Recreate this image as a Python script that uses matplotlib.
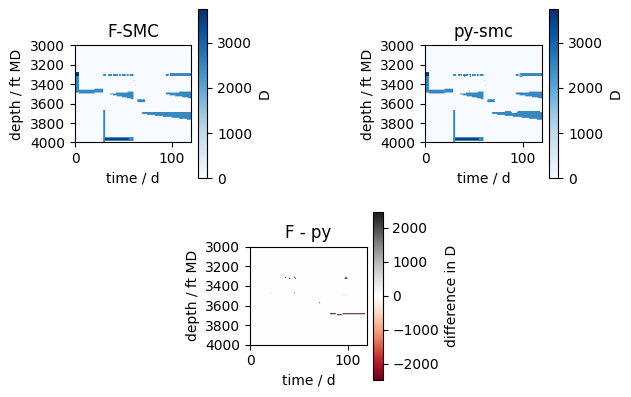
import numpy as np
import matplotlib
matplotlib.use("Agg")
import matplotlib.pyplot as plt

# ---- data ----
n_time = 120
depth_top, depth_bot, depth_step = 3000, 4000, 10

# F-SMC bands: time start/end, top depth at start/end, bottom depth at start/end, value
band_t0   = [0,    0,    4,    20,   29,   29,   31,   29,   34,   39,   45,   48,   53,   56,   36,   60,   61,   61,   64,   93,   97,   93,   69]
band_t1   = [4,    4,    20,   29,   31,   60,   55,   32,   38,   44,   47,   52,   55,   60,   60,   61,   62,   62,   72,   96,   120,  120,  120]
band_top0 = [3280, 3280, 3460, 3450, 3670, 3950, 3960, 3300, 3300, 3300, 3300, 3300, 3300, 3300, 3500, 3360, 3410, 3470, 3560, 3300, 3290, 3490, 3690]
band_top1 = [3280, 3280, 3460, 3450, 3670, 3950, 3960, 3300, 3300, 3300, 3300, 3300, 3300, 3300, 3480, 3360, 3410, 3470, 3560, 3300, 3290, 3480, 3690]
band_bot0 = [3490, 3320, 3500, 3490, 4000, 3990, 3980, 3320, 3320, 3320, 3320, 3320, 3320, 3320, 3510, 3370, 3420, 3480, 3590, 3320, 3320, 3510, 3710]
band_bot1 = [3490, 3320, 3500, 3490, 4000, 3990, 3980, 3320, 3320, 3320, 3320, 3320, 3320, 3320, 3560, 3370, 3420, 3480, 3590, 3320, 3320, 3550, 3770]
band_val  = [2470, 3740, 2470, 2470, 2470, 2470, 3500, 2470, 2470, 2470, 2470, 2470, 2470, 2470, 2470, 1200, 1200, 1200, 2470, 2470, 2470, 2470, 2470]

# py-smc: cells where it differs from F-SMC (time start/end, depth top/bottom, py value)
chg_t0  = [82,   89,   36,   40,   45,   46,   21,   21,   45,   71,   97,   98,   95,   95]
chg_t1  = [88,   94,   37,   41,   46,   47,   22,   22,   46,   72,   100,  99,   100,  118]
chg_top = [3680, 3690, 3310, 3320, 3310, 3320, 3460, 3480, 3470, 3570, 3320, 3310, 3490, 3680]
chg_bot = [3690, 3700, 3320, 3330, 3320, 3330, 3470, 3490, 3480, 3580, 3330, 3320, 3500, 3690]
chg_val = [2470, 0,    0,    2470, 0,    2470, 2000, 2900, 1700, 400,  2470, 0,    2900, 2470]

# ---- build grids ----
depth_centers = np.arange(depth_top, depth_bot, depth_step) + depth_step / 2
F = np.zeros((depth_centers.size, n_time))
for t0, t1, a0, a1, b0, b1, v in zip(band_t0, band_t1, band_top0, band_top1, band_bot0, band_bot1, band_val):
    for t in range(t0, t1):
        f = (t - t0) / max(t1 - 1 - t0, 1)
        top = a0 + (a1 - a0) * f
        bot = b0 + (b1 - b0) * f
        rows = (depth_centers > top) & (depth_centers < bot)
        F[rows, t] = v

PY = F.copy()
for t0, t1, a, b, v in zip(chg_t0, chg_t1, chg_top, chg_bot, chg_val):
    rows = (depth_centers > a) & (depth_centers < b)
    PY[np.ix_(rows, np.arange(t0, t1))] = v

D = F - PY
dlim = np.abs(D).max()
vmax = max(F.max(), PY.max())

# ---- figure ----
fig = plt.figure(figsize=(6.31, 3.97), dpi=100)
extent = [-0.5, n_time - 0.5, depth_bot, depth_top]

def panel(ax_rect, cb_rect, data, title, cmap, vmin, vmax_, cblabel):
    ax = fig.add_axes(ax_rect)
    im = ax.imshow(data, cmap=cmap, vmin=vmin, vmax=vmax_, extent=extent, aspect="auto")
    ax.set_title(title)
    ax.set_xlabel("time / d")
    ax.set_ylabel("depth / ft MD")
    ax.set_yticks(np.arange(3000, 4001, 200))
    ax.set_xticks([0, 100])
    cax = fig.add_axes(cb_rect)
    cb = fig.colorbar(im, cax=cax)
    cb.set_label(cblabel)
    return ax

panel([0.1184, 0.6411, 0.1843, 0.2443], [0.3143, 0.5509, 0.0143, 0.4257], F, "F-SMC", "Blues", 0, vmax, "D")
panel([0.6735, 0.6411, 0.1849, 0.2443], [0.8705, 0.5509, 0.0143, 0.4257], PY, "py-smc", "Blues", 0, vmax, "D")
panel([0.3962, 0.1317, 0.1849, 0.2469], [0.5916, 0.0428, 0.0149, 0.4239], D, "F - py", "RdGy", -dlim, dlim, "difference in D")

fig.savefig("out.png", dpi=100)
